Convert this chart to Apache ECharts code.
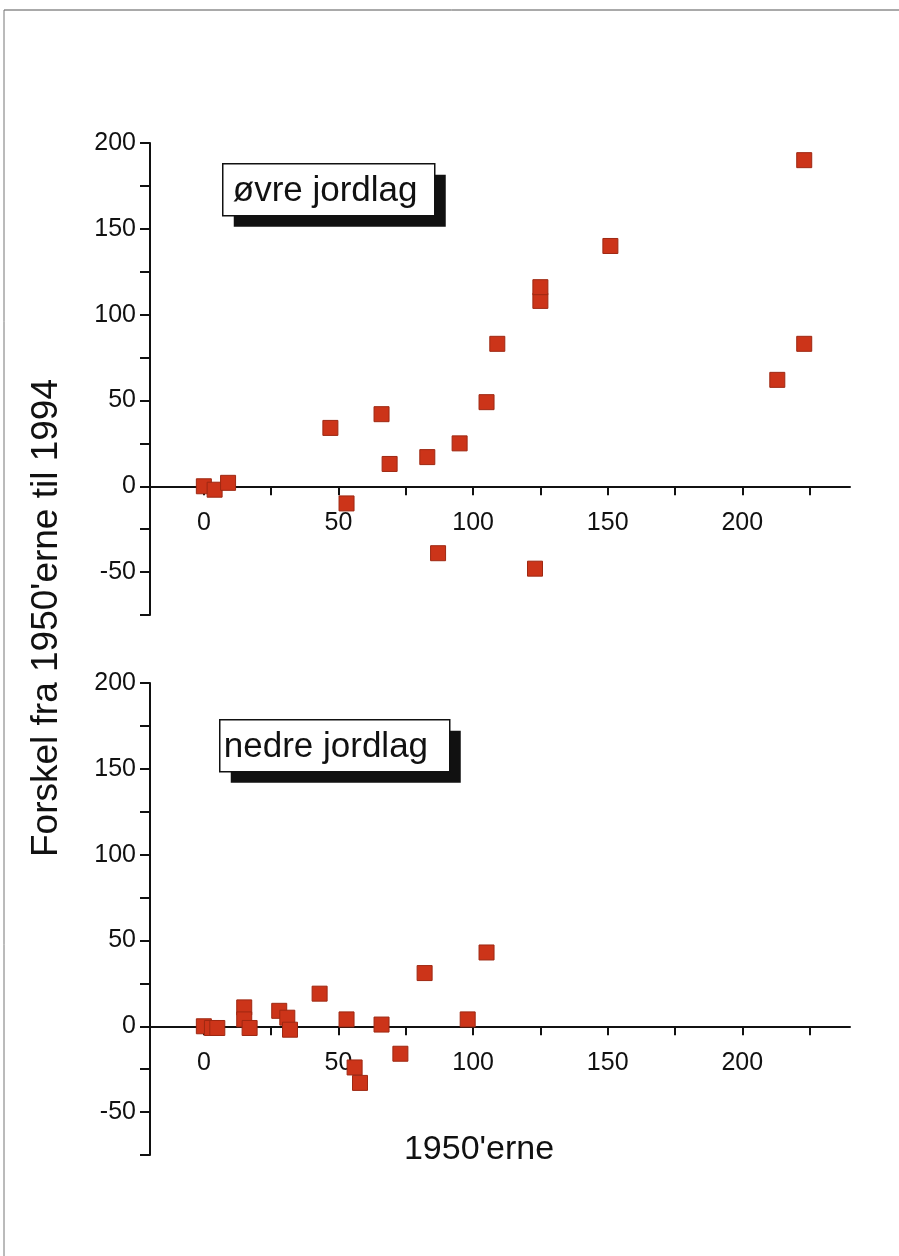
<!DOCTYPE html>
<html>
<head>
<meta charset="utf-8">
<script src="https://cdn.jsdelivr.net/npm/echarts@6/dist/echarts.min.js"></script>
<style>
  html, body { margin: 0; padding: 0; background: #fff; }
  #chart { width: 899px; height: 1256px; }
</style>
</head>
<body>
<div id="chart"></div>
<script>
// øvre jordlag: [1950'erne, forskel til 1994]
const upperLayer = [
  [0, 0], [4, -2], [9, 2], [47, 34], [53, -10], [66, 42], [69, 13],
  [83, 17], [87, -39], [95, 25], [105, 49], [109, 83], [123, -48],
  [125, 108], [125, 116], [151, 140], [213, 62], [223, 83], [223, 190]
]
// nedre jordlag
const lowerLayer = [
  [0, 0], [3, -1], [5, -1], [15, 11], [15, 4], [17, -1], [28, 9],
  [31, 5], [32, -2], [43, 19], [53, 4], [56, -24], [58, -33], [66, 1],
  [73, -16], [82, 31], [98, 4], [105, 43]
]
const xLabels = [0, 50, 100, 150, 200]
const xTicks = [0, 25, 50, 75, 100, 125, 150, 175, 200, 225]
const yLabels = [-50, 0, 50, 100, 150, 200]

const ink = '#111'
const font = '"Liberation Sans", Arial, sans-serif'
const yMin = -75
const yMax = 200
const plotH = 472

const chart = echarts.init(document.getElementById('chart'))

// x axis sits on y = 0: shift it up from the grid bottom
const zeroShift = -plotH * (0 - yMin) / (yMax - yMin)

const makeX = (gridIndex) => ({
  gridIndex,
  type: 'value',
  min: -20,
  max: 240,
  offset: zeroShift,
  axisLine: { onZero: false, lineStyle: { color: ink, width: 2 } },
  axisTick: { customValues: xTicks, length: 9, lineStyle: { color: ink, width: 2 } },
  axisLabel: { customValues: xLabels, fontSize: 25, fontFamily: font, color: ink, margin: 24 },
  splitLine: { show: false }
})

const makeY = (gridIndex) => ({
  gridIndex,
  type: 'value',
  min: yMin,
  max: yMax,
  interval: 25,
  axisLine: { onZero: false, lineStyle: { color: ink, width: 2 } },
  axisTick: { length: 10, lineStyle: { color: ink, width: 2 } },
  axisLabel: {
    fontSize: 25, fontFamily: font, color: ink, margin: 14,
    formatter: v => (yLabels.includes(v) ? String(v) : '')
  },
  splitLine: { show: false }
})

const marker = {
  symbol: 'rect',
  symbolSize: 15,
  itemStyle: { color: '#cc3419', borderColor: '#9e2812', borderWidth: 1, opacity: 1 }
}

// label box with a solid drop shadow
const tagBox = (x, y, w, h, text, pad) => ({
  type: 'group',
  left: x,
  top: y,
  children: [
    { type: 'rect', shape: { x: 11, y: 11, width: w, height: h }, style: { fill: ink } },
    { type: 'rect', shape: { x: 0, y: 0, width: w, height: h }, style: { fill: '#fff', stroke: ink, lineWidth: 1.5 } },
    { type: 'text', x: pad, y: h / 2 + 2, style: { text, font: '35px ' + font, fill: ink, verticalAlign: 'middle' } }
  ]
})

chart.setOption({
  animation: false,
  backgroundColor: '#fff',
  grid: [
    { left: 150, top: 143, width: 700, height: plotH },
    { left: 150, top: 683, width: 700, height: plotH }
  ],
  xAxis: [makeX(0), makeX(1)],
  yAxis: [makeY(0), makeY(1)],
  series: [
    { name: 'øvre jordlag', type: 'scatter', xAxisIndex: 0, yAxisIndex: 0, data: upperLayer, ...marker },
    { name: 'nedre jordlag', type: 'scatter', xAxisIndex: 1, yAxisIndex: 1, data: lowerLayer, ...marker }
  ],
  graphic: [
    // page frame
    { type: 'line', shape: { x1: 4, y1: 10, x2: 899, y2: 10 }, style: { stroke: '#555', lineWidth: 1 } },
    { type: 'line', shape: { x1: 4, y1: 10, x2: 4, y2: 1256 }, style: { stroke: '#777', lineWidth: 1 } },
    tagBox(222, 163, 212, 52, 'øvre jordlag', 10),
    tagBox(219, 719, 230, 52, 'nedre jordlag', 4),
    {
      type: 'text', x: 47, y: 618, rotation: Math.PI / 2,
      style: { text: "Forskel fra 1950'erne til 1994", font: '37px ' + font, fill: ink, align: 'center', verticalAlign: 'middle' }
    },
    {
      type: 'text', x: 479, y: 1150,
      style: { text: "1950'erne", font: '34px ' + font, fill: ink, align: 'center', verticalAlign: 'middle' }
    }
  ]
})

window.addEventListener('resize', () => chart.resize())
</script>
</body>
</html>
